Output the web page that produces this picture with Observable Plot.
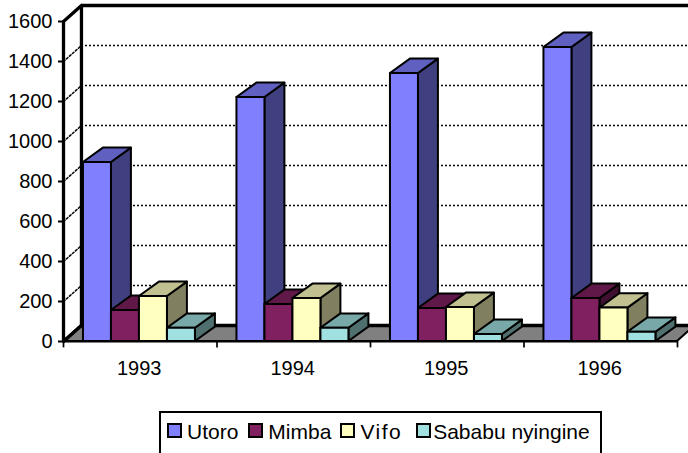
<!DOCTYPE html>
<html>
<head>
<meta charset="utf-8">
<script src="https://cdn.jsdelivr.net/npm/d3@7"></script>
<script src="https://cdn.jsdelivr.net/npm/@observablehq/plot@0.6"></script>
<style>
html,body{margin:0;padding:0;background:#fff;overflow:hidden}
svg{display:block}
#legend{position:relative;box-sizing:border-box;margin-left:159px;width:443px;height:60px;border:2px solid #000;font:21px/20px "Liberation Sans",Arial,sans-serif;color:#000;display:flex;align-items:flex-start;padding:9px 0 0 6px;white-space:nowrap}
#legend i{display:inline-block;box-sizing:border-box;width:15px;height:15px;border:2px solid #000;margin:1px 5px 0 0;flex:none}
#legend span{margin-right:10px}
#legend span:nth-of-type(2){margin-right:9px}
#legend span:nth-of-type(3){letter-spacing:1.5px;margin-right:14px}
#legend i:nth-of-type(4){margin-right:2px}
</style>
</head>
<body>
<div id="chart"></div>
<div id="legend"></div>
<script>
const years = ["1993","1994","1995","1996"];
const seriesNames = ["Utoro","Mimba","Vifo","Sababu nyingine"];
const utoro = [895,1220,1340,1470];
const mimba = [155,185,165,215];
const vifo = [225,215,170,167];
const sababu = [66,66,35,46];
const yTicks = [0,200,400,600,800,1000,1200,1400,1600];
const frontColors = ["#8080FF","#802060","#FFFFC0","#A0E0E0"];
const topColors = ["#6060C0","#601848","#C0C090","#78A8A8"];
const sideColors = ["#404080","#401030","#808060","#507070"];

const allSeries = [utoro,mimba,vifo,sababu];
const wallDx = 0.117, wallDy = 80;   // depth of the walls in data units
const barW = 0.1824, barDx = 0.13, barDy = 72;
const groupStart = 0.13;

const bars = [];
years.forEach((yr,i)=>allSeries.forEach((s,k)=>{
  bars.push({x:i+groupStart+k*barW, v:s[i], k});
}));

const barMarks = bars.flatMap(b=>{
  const common = {stroke:"#000",strokeWidth:2,strokeLinejoin:"round"};
  return [
    Plot.areaY([{x:b.x+barW,y1:0,y2:b.v},{x:b.x+barW+barDx,y1:barDy,y2:b.v+barDy}],
      {x:"x",y1:"y1",y2:"y2",fill:sideColors[b.k],...common}),
    Plot.areaX([{y:b.v,x1:b.x,x2:b.x+barW},{y:b.v+barDy,x1:b.x+barDx,x2:b.x+barW+barDx}],
      {y:"y",x1:"x1",x2:"x2",fill:topColors[b.k],...common}),
    Plot.rect([b],{x1:"x",x2:d=>d.x+barW,y1:0,y2:"v",fill:frontColors[b.k],...common})
  ];
});

const gridVals = yTicks.slice(1,-1);
const plot = Plot.plot({
  width:688,height:411,
  marginLeft:63,marginRight:11,marginTop:21,marginBottom:70,
  style:{fontFamily:'"Liberation Sans",Arial,sans-serif',fontSize:"20px",color:"#000",background:"#fff",overflow:"hidden"},
  x:{type:"linear",domain:[0,4],axis:null},
  y:{type:"linear",domain:[0,1600],axis:null},
  marks:[
    // gridlines on back and side walls
    Plot.ruleY(gridVals,{y:d=>d+wallDy,x1:wallDx,x2:4+wallDx,stroke:"#000",strokeWidth:1.5,strokeDasharray:"2,2"}),
    ...gridVals.map(v=>Plot.line([[0,v],[wallDx,v+wallDy]],{stroke:"#000",strokeWidth:1.5,strokeDasharray:"2,2"})),
    // floor
    Plot.areaX([{y:0,x1:0,x2:4},{y:wallDy,x1:wallDx,x2:4+wallDx}],{y:"y",x1:"x1",x2:"x2",fill:"#808080",stroke:"#000",strokeWidth:2}),
    Plot.ruleY([wallDy],{x1:wallDx,x2:4+wallDx,stroke:"#000",strokeWidth:3.3}),
    // walls
    Plot.ruleX([wallDx],{y1:wallDy,y2:1600+wallDy,stroke:"#000",strokeWidth:3.3}),
    Plot.ruleY([1600+wallDy],{x1:wallDx,x2:4+wallDx,stroke:"#000",strokeWidth:3.3}),
    Plot.line([[0,1600],[wallDx,1600+wallDy]],{stroke:"#000",strokeWidth:3.3}),
    Plot.line([[0,0],[wallDx,wallDy]],{stroke:"#000",strokeWidth:3.3}),
    Plot.ruleX([0],{y1:0,y2:1600,stroke:"#000",strokeWidth:3.3}),
    ...barMarks,
    Plot.ruleY([0],{x1:0,x2:4,stroke:"#000",strokeWidth:2}),
    Plot.ruleX([0,1,2,3,4],{y1:0,y2:-32,stroke:"#000",strokeWidth:1.7}),
    Plot.axisY({ticks:yTicks,tickSize:5,tickPadding:6,strokeWidth:2,fontSize:20,label:null,tickFormat:d=>String(d)}),
    Plot.axisX({anchor:"bottom",ticks:[0.5,1.5,2.5,3.5],tickFormat:d=>years[Math.floor(d)],tickSize:0,tickPadding:0,fontSize:20,label:null,dy:19,dx:-1})
  ]
});
document.getElementById("chart").append(plot);
const lg=document.getElementById("legend");
seriesNames.forEach((n,i)=>{
  const sw=document.createElement("i");sw.style.background=frontColors[i];
  const t=document.createElement("span");t.textContent=n;
  lg.append(sw,t);
});
</script>
</body>
</html>
